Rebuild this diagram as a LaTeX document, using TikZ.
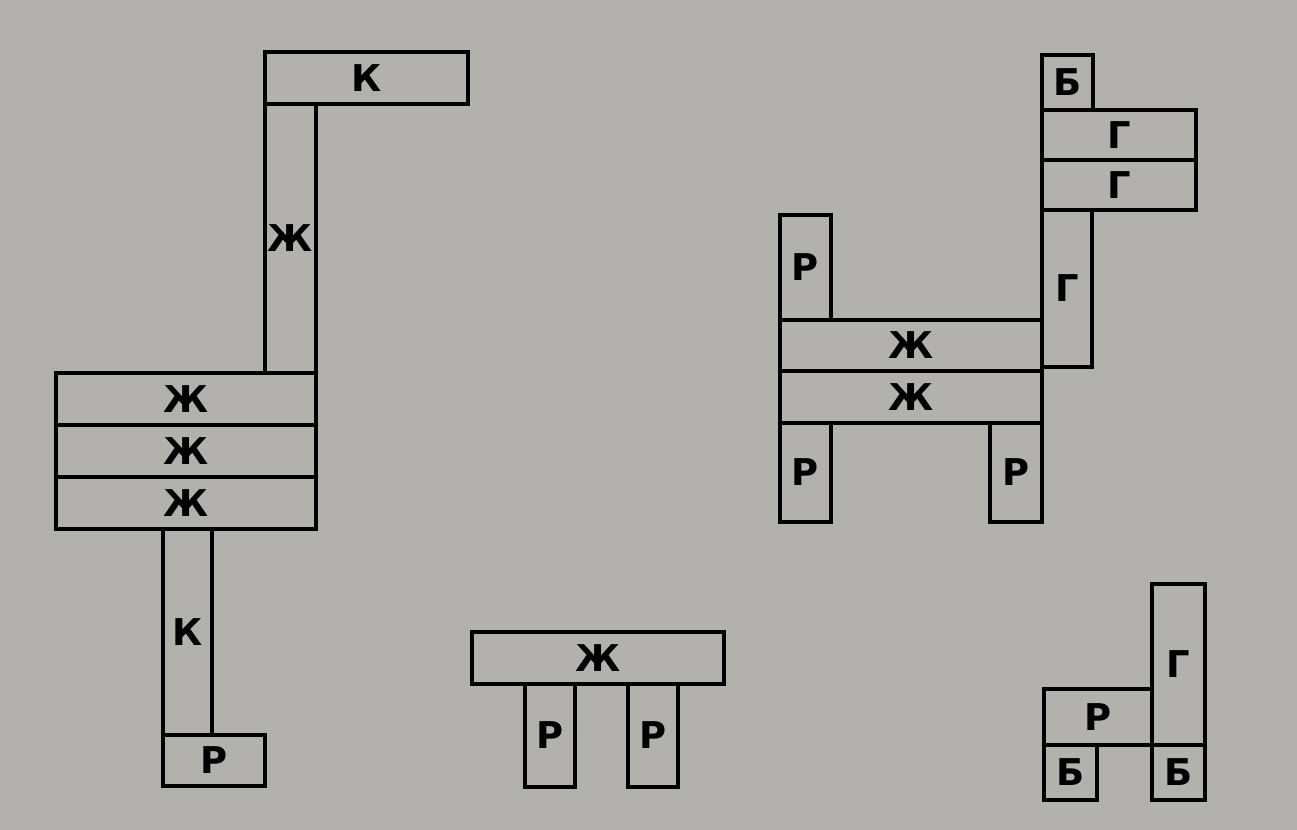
\documentclass[tikz,border=0pt]{standalone}
\usepackage{fontspec}
\setmainfont{DejaVu Sans}
\usetikzlibrary{positioning}
\definecolor{paper}{RGB}{178,177,174}

\begin{document}
\begin{tikzpicture}[
    brick/.style={draw, line width=2.8pt, fill=paper, inner sep=0pt, outer sep=0pt, anchor=north west, font=\fontsize{21}{24}\selectfont\bfseries},
    lying/.style={brick, minimum height=1.04cm},
    standing/.style={brick, minimum width=1.02cm}
  ]
    \fill[paper] (0,0) rectangle (25.94,-16.60);
    \useasboundingbox (0,0) rectangle (25.94,-16.60);
    % left figure
    \node[lying, minimum width=4.06cm] (kTop) at (5.30,-1.04) {К};
    \node[standing, minimum height=5.38cm, below right=0pt and 0pt of kTop.south west] (zhNeck) {Ж};
    \node[lying, minimum width=5.20cm] (zhA) at (1.12,-7.46) {Ж};
    \node[lying, minimum width=5.20cm, below right=0pt and 0pt of zhA.south west] (zhB) {Ж};
    \node[lying, minimum width=5.20cm, below right=0pt and 0pt of zhB.south west] (zhC) {Ж};
    \node[standing, minimum width=0.98cm, minimum height=4.12cm] (kLeg) at (3.26,-10.58) {К};
    \node[lying, minimum width=2.04cm, minimum height=1.02cm, below right=0pt and 0pt of kLeg.south west] (rFoot) {Р};
    % middle figure
    \node[lying, minimum width=5.04cm] (zhTable) at (9.44,-12.64) {Ж};
    \node[standing, minimum width=1.00cm, minimum height=2.06cm] (rLegA) at (10.50,-13.68) {Р};
    \node[standing, minimum width=1.00cm, minimum height=2.06cm] (rLegB) at (12.56,-13.68) {Р};
    % right figure
    \node[brick, minimum width=1.02cm, minimum height=1.10cm] (bHead) at (20.84,-1.10) {Б};
    \node[lying, minimum width=3.08cm, minimum height=1.00cm, below right=0pt and 0pt of bHead.south west] (gA) {Г};
    \node[lying, minimum width=3.08cm, minimum height=1.00cm, below right=0pt and 0pt of gA.south west] (gB) {Г};
    \node[standing, minimum width=1.00cm, minimum height=3.14cm, below right=0pt and 0pt of gB.south west] (gNeck) {Г};
    \node[standing, minimum height=2.10cm] (rTail) at (15.60,-4.30) {Р};
    \node[lying, minimum width=5.24cm, minimum height=1.02cm] (zhBodyA) at (15.60,-6.40) {Ж};
    \node[lying, minimum width=5.24cm, minimum height=1.04cm, below right=0pt and 0pt of zhBodyA.south west] (zhBodyB) {Ж};
    \node[standing, minimum height=1.98cm, below right=0pt and 0pt of zhBodyB.south west] (rLegL) {Р};
    \node[standing, minimum width=1.04cm, minimum height=1.98cm] (rLegR) at (19.80,-8.46) {Р};
    % small figure
    \node[standing, minimum width=1.06cm, minimum height=3.22cm] (gTall) at (23.04,-11.68) {Г};
    \node[lying, minimum width=2.16cm, minimum height=1.12cm] (rSeat) at (20.88,-13.78) {Р};
    \node[brick, minimum width=1.06cm, minimum height=1.10cm, below right=0pt and 0pt of rSeat.south west] (bLeft) {Б};
    \node[brick, minimum width=1.06cm, minimum height=1.10cm, below right=0pt and 0pt of gTall.south west] (bRight) {Б};
  \end{tikzpicture}
\end{document}
